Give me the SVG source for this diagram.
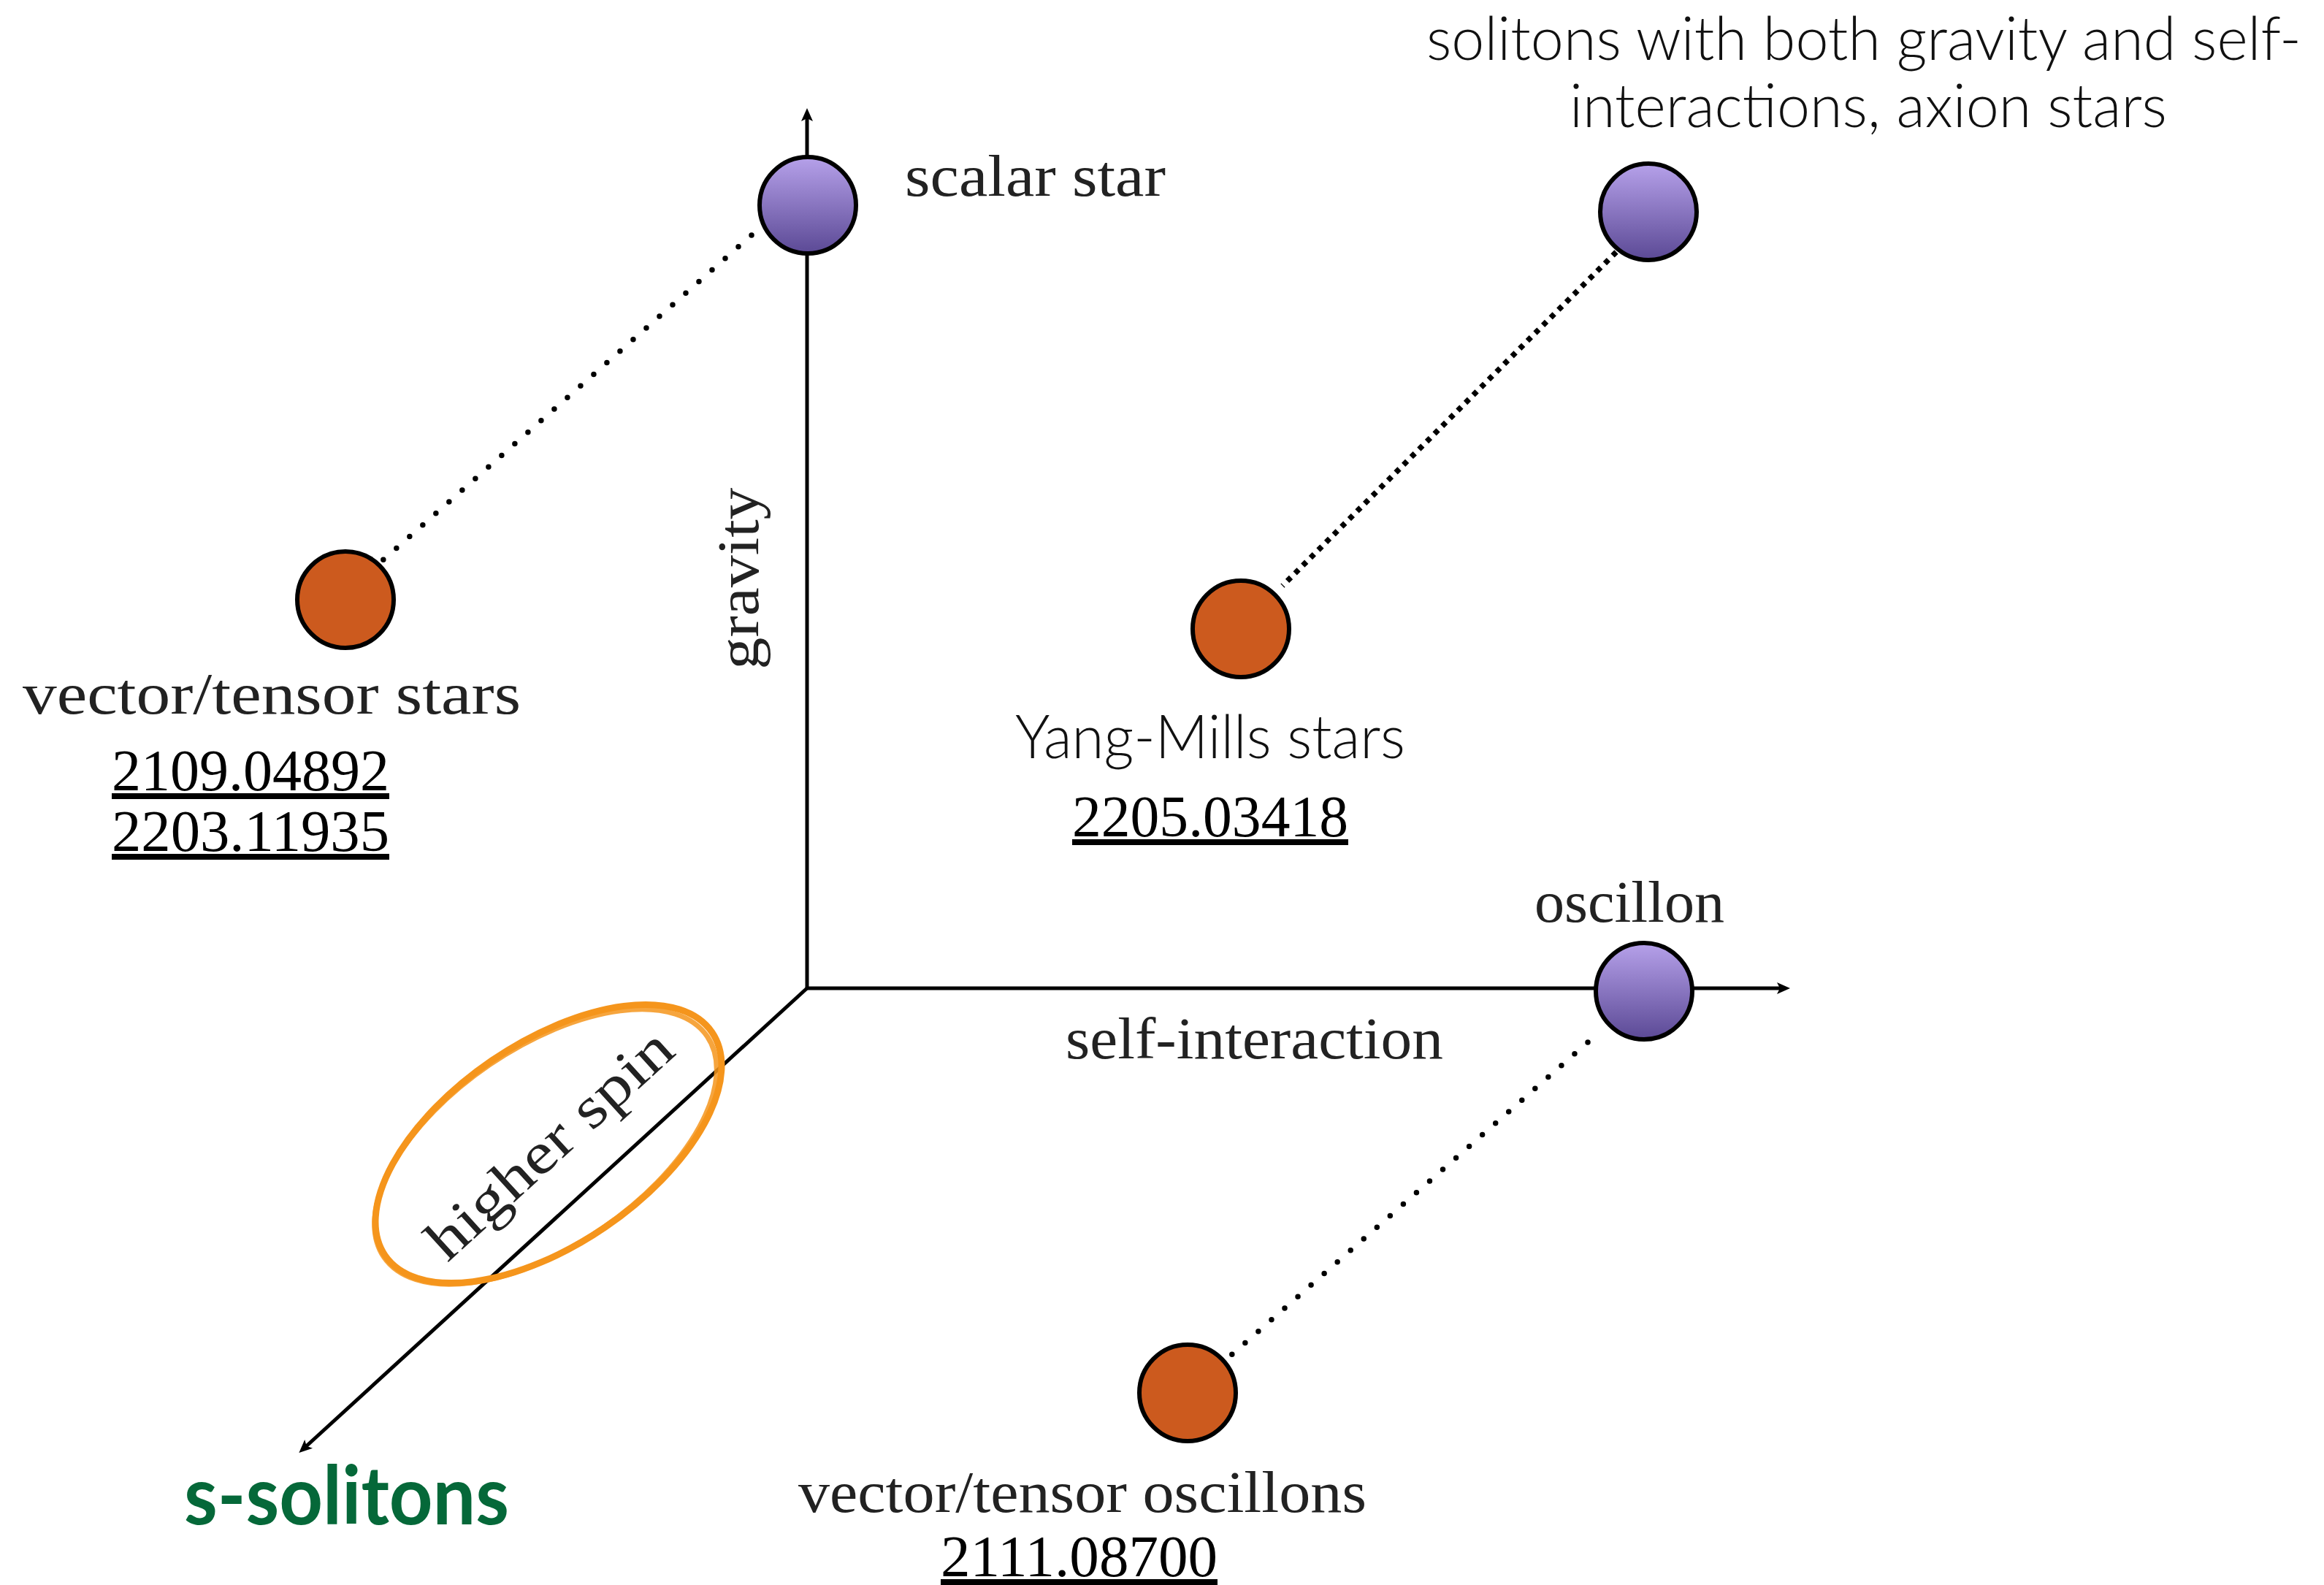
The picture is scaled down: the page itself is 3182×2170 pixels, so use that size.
<svg xmlns="http://www.w3.org/2000/svg" width="3182" height="2170" viewBox="0 0 3182 2170">
<defs>
<linearGradient id="purple" x1="0" y1="0" x2="0" y2="1">
<stop offset="0" stop-color="#b6a1ea"/>
<stop offset="1" stop-color="#5b4995"/>
</linearGradient>
<marker id="arr" markerUnits="userSpaceOnUse" markerWidth="40" markerHeight="40" viewBox="-20 -20 40 40" refX="0" refY="0" orient="auto">
<path d="M9,0 L-9,-8 L-5,0 L-9,8 Z" fill="#000"/>
</marker>
</defs>
<style>
.axis{stroke:#000;stroke-width:5;fill:none}
.dots{stroke:#000;stroke-width:7.5;fill:none;stroke-linecap:round;stroke-dasharray:0 24}
.dense{stroke:#000;stroke-width:7.5;fill:none;stroke-dasharray:7 8}
.purple{fill:url(#purple);stroke:#000;stroke-width:6}
.orange{fill:#cc5a1e;stroke:#000;stroke-width:6}
.cm{font-family:"Liberation Serif",serif;font-size:80px;fill:#222}
.num{font-family:"Liberation Serif",serif;font-size:80px;fill:#000;text-decoration:underline}
.gill{font-family:Lato,"Open Sans",sans-serif;font-weight:300;font-size:82px;fill:#111}
.green{font-family:Lato,"Open Sans",sans-serif;font-weight:700;font-size:112px;fill:#056839}
.ring{fill:none;stroke:#f5951c;stroke-linecap:round}
</style>
<rect width="3182" height="2170" fill="#fff"/>

<g id="connectors">
<line class="axis" x1="1105" y1="1353" x2="1105" y2="157" marker-end="url(#arr)"/>
<line class="axis" x1="1103" y1="1353" x2="2442" y2="1353" marker-end="url(#arr)"/>
<line class="axis" x1="1106" y1="1352" x2="416" y2="1983" marker-end="url(#arr)"/>
<line class="dots" x1="1029" y1="322" x2="524" y2="767"/>
<line class="dense" x1="2213" y1="345" x2="1756" y2="802"/>
<line class="dots" x1="2174" y1="1427" x2="1686" y2="1855"/>
</g>

<g id="axis-labels">
<text class="cm" transform="translate(1038,792) rotate(-90)" text-anchor="middle" textLength="249" lengthAdjust="spacingAndGlyphs">gravity</text>
<text class="cm" x="1459" y="1449" textLength="517" lengthAdjust="spacingAndGlyphs">self-interaction</text>
</g>

<g id="higher-spin">
<ellipse class="ring" cx="751" cy="1566" rx="271" ry="138" transform="rotate(-34.3 751 1566)" stroke-width="9"/>
<ellipse class="ring" cx="747" cy="1570" rx="268" ry="136" transform="rotate(-34.3 747 1570)" stroke-width="7" opacity="0.85"/>
<text class="cm" transform="translate(770,1586) rotate(-42.3)" text-anchor="middle" font-size="90" textLength="426" lengthAdjust="spacingAndGlyphs">higher spin</text>
</g>

<g id="s-solitons">
<text class="green" x="252" y="2087" textLength="445" lengthAdjust="spacingAndGlyphs">s-solitons</text>
</g>

<g id="scalar-star">
<circle class="purple" cx="1106" cy="281" r="66"/>
<text class="cm" x="1239" y="268" textLength="357" lengthAdjust="spacingAndGlyphs">scalar star</text>
</g>

<g id="axion-star">
<circle class="purple" cx="2257" cy="290" r="66"/>
<text class="gill" x="1953" y="82" textLength="1198" lengthAdjust="spacingAndGlyphs">solitons with both gravity and self-</text>
<text class="gill" x="2149" y="174" textLength="818" lengthAdjust="spacingAndGlyphs">interactions, axion stars</text>
</g>

<g id="oscillon">
<circle class="purple" cx="2251" cy="1357" r="66"/>
<text class="cm" x="2101" y="1262" textLength="260" lengthAdjust="spacingAndGlyphs">oscillon</text>
</g>

<g id="vector-tensor-stars">
<circle class="orange" cx="473" cy="821" r="66"/>
<text class="cm" x="31" y="977" textLength="682" lengthAdjust="spacingAndGlyphs">vector/tensor stars</text>
<text class="num" x="153" y="1082" textLength="380" lengthAdjust="spacingAndGlyphs">2109.04892</text>
<text class="num" x="153" y="1165" textLength="380" lengthAdjust="spacingAndGlyphs">2203.11935</text>
</g>

<g id="yang-mills-stars">
<circle class="orange" cx="1699" cy="861" r="66"/>
<text class="gill" x="1390" y="1038" font-size="86" textLength="534" lengthAdjust="spacingAndGlyphs">Yang-Mills stars</text>
<text class="num" x="1468" y="1145" textLength="378" lengthAdjust="spacingAndGlyphs">2205.03418</text>
</g>

<g id="vector-tensor-oscillons">
<circle class="orange" cx="1626" cy="1907" r="66"/>
<text class="cm" x="1093" y="2070" textLength="778" lengthAdjust="spacingAndGlyphs">vector/tensor oscillons</text>
<text class="num" x="1288" y="2158" textLength="379" lengthAdjust="spacingAndGlyphs">2111.08700</text>
</g>
</svg>
